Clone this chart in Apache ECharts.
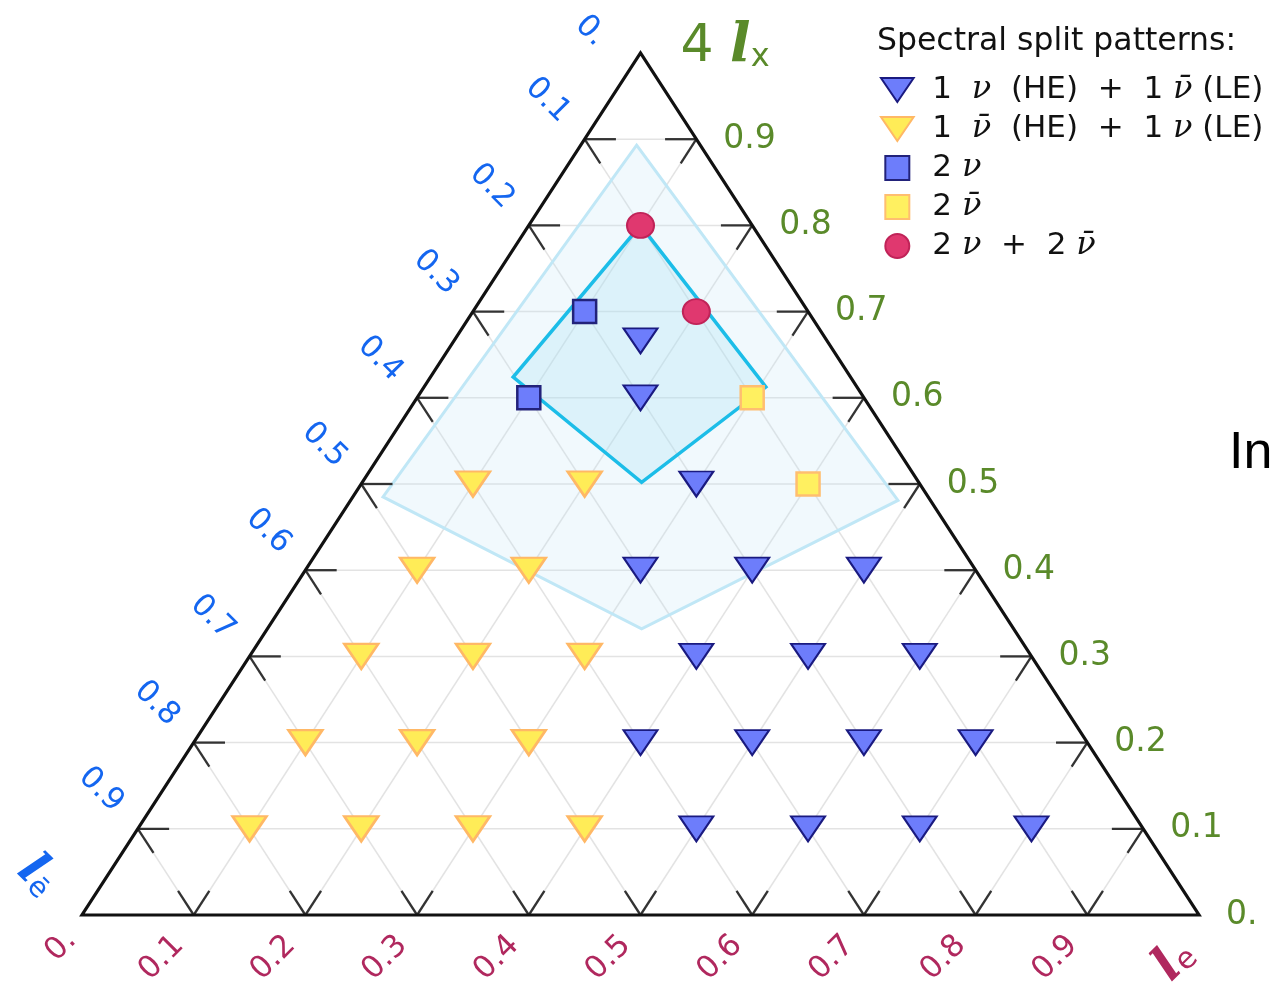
<!DOCTYPE html>
<html>
<head>
<meta charset="utf-8">
<script src="https://cdn.jsdelivr.net/npm/echarts@6/dist/echarts.min.js"></script>
<style>
  html, body { margin: 0; padding: 0; background: #ffffff; }
  #chart { width: 1274px; height: 984px; }
</style>
</head>
<body>
<div id="chart"></div>
<script>
// Ternary compositions are stored as [l_e, l_x]; the third share is l_ebar = 1 - l_e - l_x.
const tickValues = [0, 0.1, 0.2, 0.3, 0.4, 0.5, 0.6, 0.7, 0.8, 0.9];
const tickLabels = ['0.', '0.1', '0.2', '0.3', '0.4', '0.5', '0.6', '0.7', '0.8', '0.9'];
const gridLevels = [0.1, 0.2, 0.3, 0.4, 0.5, 0.6, 0.7, 0.8, 0.9];

// Spectral split patterns
const nuHeNubarLe = [
  [0.5, 0.1], [0.6, 0.1], [0.7, 0.1], [0.8, 0.1],
  [0.4, 0.2], [0.5, 0.2], [0.6, 0.2], [0.7, 0.2],
  [0.4, 0.3], [0.5, 0.3], [0.6, 0.3],
  [0.3, 0.4], [0.4, 0.4], [0.5, 0.4],
  [0.3, 0.5],
  [0.2, 0.6],
  [0.167, 0.666]
];
const nubarHeNuLe = [
  [0.1, 0.1], [0.2, 0.1], [0.3, 0.1], [0.4, 0.1],
  [0.1, 0.2], [0.2, 0.2], [0.3, 0.2],
  [0.1, 0.3], [0.2, 0.3], [0.3, 0.3],
  [0.1, 0.4], [0.2, 0.4],
  [0.1, 0.5], [0.2, 0.5]
];
const twoNu = [[0.1, 0.6], [0.1, 0.7]];
const twoNubar = [[0.3, 0.6], [0.4, 0.5]];
const twoNuTwoNubar = [[0.1, 0.8], [0.2, 0.7]];

// Shaded regions (corner compositions)
const outerRegion = [[0.05, 0.893], [0.49, 0.481], [0.335, 0.332], [0.027, 0.485]];
const innerRegion = [[0.1, 0.8], [0.306, 0.6125], [0.25, 0.502], [0.074, 0.624]];

const TICK_LEN = 0.028;

// [l_e, l_x] -> plane position (x across the base, y up to the l_x apex)
function toXY(le, lx) { return [le + lx / 2, lx]; }
function px(api, p) { return api.coord(toXY(p[0], p[1])); }
function seg(api, a, b, style) {
  const p = px(api, a), q = px(api, b);
  return { type: 'line', shape: { x1: p[0], y1: p[1], x2: q[0], y2: q[1] }, style: style };
}

const BLUE = '#1466f0', RED = '#b0285e', GREEN = '#5a8a2a';

function renderGrid(params, api) {
  const st = { stroke: '#e3e3e3', lineWidth: 1.5 };
  const out = [];
  gridLevels.forEach(function (k) {
    out.push(seg(api, [0, k], [1 - k, k], st));          // constant l_x
    out.push(seg(api, [k, 0], [k, 1 - k], st));          // constant l_e
    out.push(seg(api, [1 - k, 0], [0, 1 - k], st));      // constant l_ebar
  });
  return { type: 'group', children: out };
}

function renderRegions(params, api) {
  const regions = [outerRegion, innerRegion];
  const styles = [
    { fill: 'rgba(190,228,248,0.22)', stroke: '#c0e7f6', lineWidth: 3 },
    { fill: 'rgba(160,222,245,0.25)', stroke: '#1cbde8', lineWidth: 3.5 }
  ];
  const idx = params.dataIndex;
  return {
    type: 'polygon',
    shape: { points: regions[idx].map(function (p) { return px(api, p); }) },
    style: styles[idx]
  };
}

function renderFrame(params, api) {
  const out = [];
  const tk = { stroke: '#333333', lineWidth: 2.3 };
  gridLevels.forEach(function (k) {
    // left edge (l_e = 0)
    out.push(seg(api, [0, k], [TICK_LEN, k], tk));
    out.push(seg(api, [0, k], [TICK_LEN, k - TICK_LEN], tk));
    // right edge (l_ebar = 0)
    out.push(seg(api, [1 - k, k], [1 - k - TICK_LEN, k], tk));
    out.push(seg(api, [1 - k, k], [1 - k, k - TICK_LEN], tk));
    // base (l_x = 0)
    out.push(seg(api, [k, 0], [k, TICK_LEN], tk));
    out.push(seg(api, [k, 0], [k - TICK_LEN, TICK_LEN], tk));
  });
  out.push({
    type: 'polygon',
    shape: { points: [[0, 0], [1, 0], [0, 1]].map(function (p) { return px(api, p); }) },
    style: { fill: 'none', stroke: '#111111', lineWidth: 3.2, lineJoin: 'miter' }
  });

  const font = 'DejaVu Sans';
  tickValues.forEach(function (k, i) {
    // the short "0." labels sit closer to their corner
    const corner = (i === 0);
    // l_ebar scale along the left edge
    const a = px(api, [0, 1 - k]);
    out.push({ type: 'text', x: a[0] + (corner ? -50 : -37), y: a[1] + (corner ? -22 : -39), rotation: -Math.PI / 4,
      style: { text: tickLabels[i], fill: BLUE, fontSize: 31, fontFamily: font, align: 'center', verticalAlign: 'middle' } });
    // l_e scale along the base
    const b = px(api, [k, 0]);
    out.push({ type: 'text', x: b[0] + (corner ? -21 : -32), y: b[1] + (corner ? 31 : 43), rotation: Math.PI / 4,
      style: { text: tickLabels[i], fill: RED, fontSize: 31, fontFamily: font, align: 'center', verticalAlign: 'middle' } });
    // l_x scale along the right edge
    const c = px(api, [1 - k, k]);
    out.push({ type: 'text', x: c[0] + 27, y: c[1],
      style: { text: tickLabels[i], fill: GREEN, fontSize: 33, fontFamily: font, align: 'left', verticalAlign: 'middle' } });
  });

  // axis names at the corners
  const bl = px(api, [0, 0]);
  out.push({ type: 'text', x: bl[0] - 45, y: bl[1] - 39, rotation: -Math.PI / 4,
    style: { text: '{l|l}{s|ē}', align: 'center', verticalAlign: 'middle',
      rich: { l: { fontSize: 48, fontFamily: 'DejaVu Serif', fontWeight: 'bold', fontStyle: 'italic', fill: BLUE },
              s: { fontSize: 28, fontFamily: font, fill: BLUE, padding: [18, 0, 0, 0] } } } });
  const br = px(api, [1, 0]);
  out.push({ type: 'text', x: br[0] - 24, y: br[1] + 46, rotation: Math.PI / 4,
    style: { text: '{l|l}{s|e}', align: 'center', verticalAlign: 'middle',
      rich: { l: { fontSize: 48, fontFamily: 'DejaVu Serif', fontWeight: 'bold', fontStyle: 'italic', fill: RED },
              s: { fontSize: 30, fontFamily: font, fill: RED, padding: [16, 0, 0, 0] } } } });
  const ap = px(api, [0, 1]);
  out.push({ type: 'text', x: ap[0] + 40, y: ap[1] - 6,
    style: { text: '{n|4 }{l|l}{s|x}', align: 'left', verticalAlign: 'middle',
      rich: { n: { fontSize: 52, fontFamily: font, fill: GREEN },
              l: { fontSize: 54, fontFamily: 'DejaVu Serif', fontWeight: 'bold', fontStyle: 'italic', fill: GREEN },
              s: { fontSize: 32, fontFamily: font, fill: GREEN, padding: [22, 0, 0, 0] } } } });
  return { type: 'group', children: out };
}

const downTri = 'path://M0,0 L34,0 L17,25 Z';
const square = 'path://M0,0 L10,0 L10,10 L0,10 Z';

const legendText = {
  'nuHE': '1  {i|ν}  (HE)  +  1 {i|ν̄} (LE)',
  'nubarHE': '1  {i|ν̄}  (HE)  +  1 {i|ν} (LE)',
  'twoNu': '2 {i|ν}',
  'twoNubar': '2 {i|ν̄}',
  'both': '2 {i|ν}  +  2 {i|ν̄}'
};

function scatter(name, pts, symbol, size, color, border, bw) {
  return {
    type: 'scatter', name: name, z: 6,
    data: pts.map(function (p) { return toXY(p[0], p[1]); }),
    symbol: symbol, symbolSize: size,
    itemStyle: { color: color, borderColor: border, borderWidth: bw, opacity: 1 },
    emphasis: { disabled: true }
  };
}

const chart = echarts.init(document.getElementById('chart'), null, { renderer: 'canvas' });
chart.setOption({
  animation: false,
  backgroundColor: '#ffffff',
  grid: { left: 82, top: 53, width: 1117, height: 862 },
  xAxis: { type: 'value', min: 0, max: 1, show: false },
  yAxis: { type: 'value', min: 0, max: 1, show: false },
  title: {
    text: 'Spectral split patterns:', left: 872, top: 21,
    textStyle: { fontSize: 31.5, fontWeight: 'normal', fontFamily: 'DejaVu Sans', color: '#111111' }
  },
  legend: {
    orient: 'vertical', left: 875, top: 69,
    itemWidth: 60, itemHeight: 24, itemGap: 7,
    selectedMode: false,
    symbolKeepAspect: true,
    data: [
      { name: 'nuHE', icon: downTri },
      { name: 'nubarHE', icon: downTri },
      { name: 'twoNu', icon: square },
      { name: 'twoNubar', icon: square },
      { name: 'both', icon: 'circle' }
    ],
    formatter: function (n) { return legendText[n]; },
    textStyle: {
      fontSize: 31, fontFamily: 'DejaVu Sans', color: '#111111',
      rich: { i: { fontSize: 32, fontFamily: 'DejaVu Serif', fontStyle: 'italic', color: '#111111' } }
    }
  },
  graphic: [
    { type: 'text', left: 1229, top: 428, style: { text: 'In', fontSize: 52, fontFamily: 'Liberation Sans', fill: '#000000' } }
  ],
  series: [
    { type: 'custom', name: 'grid', z: 1, silent: true, clip: false, renderItem: renderGrid, data: [[0.5, 0.5]] },
    { type: 'custom', name: 'regions', z: 2, silent: true, clip: false, renderItem: renderRegions, data: [[0.5, 0.6], [0.5, 0.65]] },
    { type: 'custom', name: 'frame', z: 3, silent: true, clip: false, renderItem: renderFrame, data: [[0.5, 0.5]] },
    scatter('nuHE', nuHeNubarLe, downTri, [34, 25], '#6d7dfb', '#1a1a80', 2),
    scatter('nubarHE', nubarHeNuLe, downTri, [34, 25], '#ffec57', '#ffb866', 2.5),
    scatter('twoNu', twoNu, square, 23, '#6d7dfb', '#22227a', 2.5),
    scatter('twoNubar', twoNubar, square, 23, '#fff060', '#ffbe70', 2.5),
    scatter('both', twoNuTwoNubar, 'circle', [27, 25], '#e0386f', '#c02358', 2)
  ]
});
</script>
</body>
</html>
